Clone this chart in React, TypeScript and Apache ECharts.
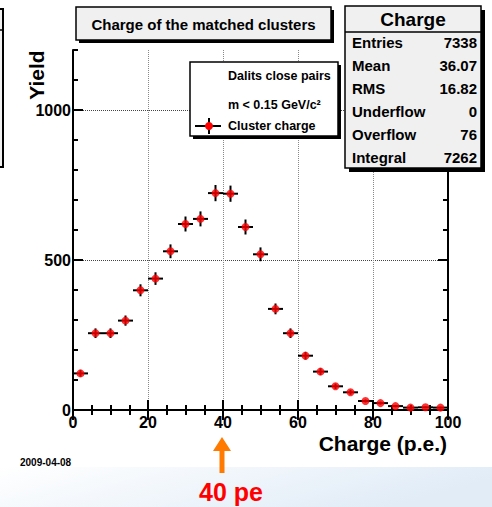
import React, { useEffect, useRef } from "react";
import * as echarts from "echarts";

const binCenters = [2, 6, 10, 14, 18, 22, 26, 30, 34, 38, 42, 46, 50, 54, 58, 62, 66, 70, 74, 78, 82, 86, 90, 94, 98];
const yields = [122, 256, 256, 298, 399, 438, 529, 620, 637, 723, 721, 610, 519, 337, 256, 181, 128, 79, 59, 30, 23, 13, 8, 9, 8];
const yErrors = [11, 16, 16, 17, 20, 21, 23, 25, 25, 27, 27, 25, 23, 18, 16, 13, 11, 9, 8, 5, 5, 4, 3, 3, 3];
const binHalfWidth = 2;
const yLabelTicks = [0, 500, 1000];
const statsLabels = ["Entries", "Mean", "RMS", "Underflow", "Overflow", "Integral"];
const statsValues = ["7338", "36.07", "16.82", "0", "76", "7262"];
const legendLines = ["Dalits close pairs", "m < 0.15 GeV/c²", "Cluster charge"];

const FONT = "'Liberation Sans', Arial, Helvetica, sans-serif";

export default function App() {
  const ref = useRef<HTMLDivElement>(null);
  useEffect(() => {
    document.body.style.margin = "0";
    const chart = echarts.init(ref.current!, null, { renderer: "svg" });
    const black = "#000";
    const tickStyle = { color: black, width: 2 };
    const xBase = {
      type: "value" as const,
      min: 0,
      max: 100,
      interval: 20,
      axisLine: { show: true, lineStyle: { color: black, width: 2 } },
      axisTick: { show: true, inside: true, length: 10, lineStyle: tickStyle },
      minorTick: { show: true, splitNumber: 4, length: 5, lineStyle: tickStyle },
    };
    const yMajor = {
      type: "value" as const,
      min: 0,
      max: 1200,
      interval: 500,
      axisLine: { show: true, lineStyle: { color: black, width: 2 } },
      axisTick: { show: true, inside: true, length: 10, lineStyle: tickStyle, customValues: yLabelTicks },
    };
    const yMinor = {
      type: "value" as const,
      min: 0,
      max: 1200,
      interval: 100,
      axisLine: { show: false },
      axisTick: { show: true, inside: true, length: 5, lineStyle: tickStyle },
      axisLabel: { show: false },
      splitLine: { show: false },
    };
    const errData = binCenters.map((x, i) => [x, yields[i], yErrors[i]]);
    const ptData = binCenters.map((x, i) => [x, yields[i]]);

    const Z = 100;
    const statsGraphics: any[] = [];
    statsLabels.forEach((lab, i) => {
      statsGraphics.push({
        type: "text",
        z: Z + 2,
        x: 352,
        y: 42 + 23 * i,
        style: { text: lab, font: `bold 15px ${FONT}`, fill: black, textAlign: "left", textVerticalAlign: "middle" },
      });
      statsGraphics.push({
        type: "text",
        z: Z + 2,
        x: 477,
        y: 42 + 23 * i,
        style: { text: statsValues[i], font: `bold 15px ${FONT}`, fill: black, textAlign: "right", textVerticalAlign: "middle" },
      });
    });

    chart.setOption({
      animation: false,
      backgroundColor: "#fff",
      grid: { left: 73, top: 50, width: 375, height: 360, containLabel: false },
      xAxis: [
        {
          ...xBase,
          position: "bottom",
          axisLabel: { color: black, fontFamily: FONT, fontWeight: "bold", fontSize: 16, margin: 4, formatter: (v: number) => String(v) },
          splitLine: { show: true, lineStyle: { color: "#888", type: "dotted", width: 1 } },
        },
        {
          ...xBase,
          position: "top",
          axisLabel: { show: false },
          splitLine: { show: false },
        },
      ],
      yAxis: [
        {
          ...yMajor,
          position: "left",
          axisLabel: {
            color: black,
            fontFamily: FONT,
            fontWeight: "bold",
            fontSize: 16,
            margin: 2,
            customValues: yLabelTicks,
            formatter: (v: number) => String(v),
          },
          splitLine: { show: true, lineStyle: { color: "#444", type: "dotted", width: 1 } },
        },
        { ...yMinor, position: "left" },
        { ...yMajor, position: "right", axisLabel: { show: false }, splitLine: { show: false } },
        { ...yMinor, position: "right" },
      ],
      series: [
        {
          type: "custom",
          xAxisIndex: 0,
          yAxisIndex: 0,
          data: errData,
          z: 3,
          renderItem: (params: any, api: any) => {
            const x = api.value(0);
            const y = api.value(1);
            const e = api.value(2);
            const l = api.coord([x - binHalfWidth, y]);
            const r = api.coord([x + binHalfWidth, y]);
            const t = api.coord([x, y + e]);
            const b = api.coord([x, Math.max(0, y - e)]);
            return {
              type: "group",
              children: [
                { type: "line", shape: { x1: l[0], y1: l[1], x2: r[0], y2: r[1] }, style: { stroke: black, lineWidth: 2 } },
                { type: "line", shape: { x1: t[0], y1: t[1], x2: b[0], y2: b[1] }, style: { stroke: black, lineWidth: 2 } },
              ],
            };
          },
        },
        {
          type: "scatter",
          xAxisIndex: 0,
          yAxisIndex: 0,
          data: ptData,
          symbol: "circle",
          symbolSize: 8,
          itemStyle: { color: "#ff0000" },
          z: 4,
        },
      ],
      graphic: [
        // bottom band
        {
          type: "rect",
          z: -10,
          shape: { x: 0, y: 467, width: 492, height: 40 },
          style: {
            fill: new echarts.graphic.LinearGradient(0, 0, 1, 0.3, [
              { offset: 0, color: "#ffffff" },
              { offset: 1, color: "#e1ecf7" },
            ]),
          },
        },
        // partial box at left edge
        {
          type: "rect",
          z: Z,
          shape: { x: -30, y: 9, width: 33, height: 158 },
          style: { fill: "#f0f0f0", stroke: black, lineWidth: 2 },
        },
        { type: "line", z: Z + 1, shape: { x1: 0, y1: 30, x2: 3, y2: 30 }, style: { stroke: black, lineWidth: 1.5 } },
        // title box
        { type: "rect", z: Z, shape: { x: 79, y: 10, width: 255, height: 33 }, style: { fill: black } },
        { type: "rect", z: Z + 1, shape: { x: 76, y: 7, width: 255, height: 33 }, style: { fill: "#f0f0f0", stroke: black, lineWidth: 1.5 } },
        {
          type: "text",
          z: Z + 2,
          x: 203.5,
          y: 24,
          style: { text: "Charge of the matched clusters", font: `bold 15px ${FONT}`, fill: black, textAlign: "center", textVerticalAlign: "middle" },
        },
        // stats box
        { type: "rect", z: Z, shape: { x: 349, y: 10, width: 136, height: 162 }, style: { fill: black } },
        { type: "rect", z: Z + 1, shape: { x: 345, y: 6, width: 136, height: 162 }, style: { fill: "#f0f0f0", stroke: black, lineWidth: 1.5 } },
        { type: "line", z: Z + 2, shape: { x1: 345, y1: 32, x2: 481, y2: 32 }, style: { stroke: black, lineWidth: 1.5 } },
        {
          type: "text",
          z: Z + 2,
          x: 413,
          y: 19,
          style: { text: "Charge", font: `bold 19px ${FONT}`, fill: black, textAlign: "center", textVerticalAlign: "middle" },
        },
        ...statsGraphics,
        // legend box
        { type: "rect", z: Z, shape: { x: 193, y: 65, width: 148, height: 74 }, style: { fill: black } },
        { type: "rect", z: Z + 1, shape: { x: 190, y: 62, width: 148, height: 74 }, style: { fill: "#fff", stroke: black, lineWidth: 1.5 } },
        ...legendLines.map((t, i) => ({
          type: "text",
          z: Z + 2,
          x: 228,
          y: [76, 105, 126][i],
          style: { text: t, font: `bold 12.5px ${FONT}`, fill: black, textAlign: "left", textVerticalAlign: "middle" },
        })),
        { type: "line", z: Z + 2, shape: { x1: 195, y1: 126, x2: 221, y2: 126 }, style: { stroke: black, lineWidth: 2 } },
        { type: "line", z: Z + 2, shape: { x1: 209, y1: 118, x2: 209, y2: 134 }, style: { stroke: black, lineWidth: 2 } },
        { type: "circle", z: Z + 3, shape: { cx: 209, cy: 126, r: 4 }, style: { fill: "#ff0000" } },
        // axis titles
        {
          type: "text",
          z: Z,
          x: 36,
          y: 75,
          rotation: Math.PI / 2,
          style: { text: "Yield", font: `bold 21px ${FONT}`, fill: black, textAlign: "center", textVerticalAlign: "middle" },
        },
        {
          type: "text",
          z: Z,
          x: 447,
          y: 443,
          style: { text: "Charge (p.e.)", font: `bold 21px ${FONT}`, fill: black, textAlign: "right", textVerticalAlign: "middle" },
        },
        {
          type: "text",
          z: Z,
          x: 20,
          y: 462,
          style: { text: "2009-04-08", font: `bold 10px ${FONT}`, fill: black, textAlign: "left", textVerticalAlign: "middle" },
        },
        // arrow
        {
          type: "polygon",
          z: Z,
          shape: { points: [[222, 437], [231, 451], [224.5, 451], [224.5, 473], [219.5, 473], [219.5, 451], [213, 451]] },
          style: { fill: "#ff7a00" },
        },
        {
          type: "text",
          z: Z,
          x: 231,
          y: 492,
          style: { text: "40 pe", font: `bold 25px ${FONT}`, fill: "#ff0000", textAlign: "center", textVerticalAlign: "middle" },
        },
      ],
    });
    return () => chart.dispose();
  }, []);
  return <div ref={ref} style={{ width: 492, height: 507 }} />;
}
